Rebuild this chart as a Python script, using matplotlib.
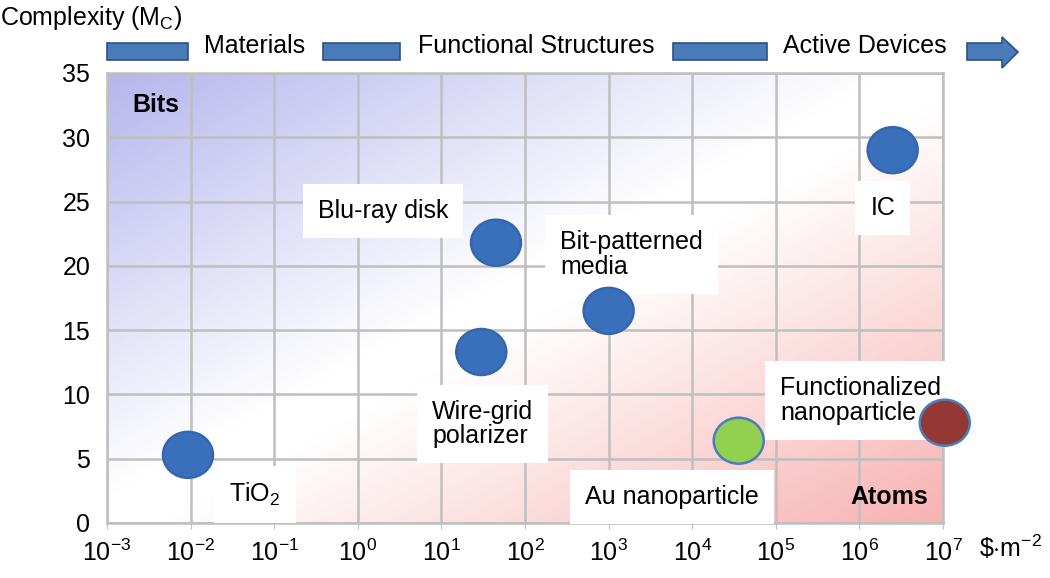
import matplotlib
matplotlib.use('Agg')
import matplotlib.pyplot as plt
import numpy as np
from matplotlib.colors import LinearSegmentedColormap
from matplotlib.path import Path
from matplotlib.patches import Rectangle, Polygon
from matplotlib.ticker import LogLocator, LogFormatterMathtext, NullLocator

plt.rcParams['font.family'] = ['Liberation Sans', 'DejaVu Sans']
plt.rcParams['mathtext.fontset'] = 'custom'
plt.rcParams['mathtext.rm'] = 'Liberation Sans'
plt.rcParams['mathtext.it'] = 'Liberation Sans:italic'
plt.rcParams['mathtext.bf'] = 'Liberation Sans:bold'

# data
names = ['TiO2', 'Wire-grid polarizer', 'Blu-ray disk', 'Bit-patterned media',
         'IC', 'Au nanoparticle', 'Functionalized nanoparticle']
cost = [0.0093, 30, 45, 1000, 2.5e6, 3.6e4, 1.05e7]      # $/m^2
complexity = [5.3, 13.3, 21.8, 16.5, 29.0, 6.4, 7.8]     # M_C
colors = ['#3a70bb', '#3a70bb', '#3a70bb', '#3a70bb', '#3a70bb', '#92d050', '#953735']
edges = ['#3466ad', '#3466ad', '#3466ad', '#3466ad', '#3466ad', '#4a7ebb', '#4a7ebb']

# label boxes
label_text = ['TiO$_2$', 'Wire-grid\npolarizer', 'Blu-ray disk', 'Bit-patterned\nmedia',
              'IC', 'Au nanoparticle', 'Functionalized\nnanoparticle']
label_x = [10**-1.23, 10**0.89, 10**0.30, 10**2.42, 10**6.28, 10**3.76, 10**5.05]
label_y = [2.2, 7.7, 24.3, 20.9, 24.5, 2.0, 9.5]
label_ha = ['center', 'left', 'center', 'left', 'center', 'center', 'left']

stages = ['Materials', 'Functional Structures', 'Active Devices']

W, H = 1050, 578
fig = plt.figure(figsize=(W / 100, H / 100), dpi=100)
ax = fig.add_axes([107 / W, 1 - 523 / H, (943 - 107) / W, (523 - 73) / H])

# background gradient blue (top-left) -> white -> red (bottom-right)
cmap = LinearSegmentedColormap.from_list(
    'bw', [(0, '#b6b6ee'), (0.47, '#ffffff'), (0.53, '#ffffff'), (1, '#f8b2b2')])
u, v = np.meshgrid(np.linspace(0, 1, 300), np.linspace(1, 0, 300))
grad = (u + (1 - v)) / 2
ax.imshow(grad, cmap=cmap, extent=(0, 1, 0, 1), transform=ax.transAxes,
          aspect='auto', zorder=0, interpolation='bilinear')

ax.set_xscale('log')
ax.set_xlim(1e-3, 1e7)
ax.set_ylim(0, 35)
ax.xaxis.set_major_locator(LogLocator(base=10, numticks=20))
ax.xaxis.set_major_formatter(LogFormatterMathtext())
ax.xaxis.set_minor_locator(NullLocator())
ax.set_yticks(np.arange(0, 36, 5))
ax.grid(True, color='#bfbfbf', linewidth=1.8)
ax.set_axisbelow(True)
for s in ax.spines.values():
    s.set_color('#bfbfbf')
    s.set_linewidth(1.8)
ax.tick_params(axis='x', labelsize=18, length=4, color='#bfbfbf', pad=8)
ax.tick_params(axis='y', labelsize=18, length=0, pad=12)

# ellipse marker
circ = Path.unit_circle()
ell = Path(circ.vertices * np.array([1.0, 0.92]), circ.codes)
ax.scatter(cost, complexity, s=36**2, marker=ell, c=colors, edgecolors=edges,
           linewidths=1.8, zorder=4, clip_on=False)

for t, x, y, ha in zip(label_text, label_x, label_y, label_ha):
    ax.text(x, y, t, fontsize=18, ha=ha, va='center', zorder=3, linespacing=1.05,
            bbox=dict(boxstyle='square,pad=0.6', fc='white', ec='none'))

ax.text(0.03, 0.929, 'Bits', transform=ax.transAxes, fontsize=18, fontweight='bold',
        ha='left', va='center', zorder=3)
ax.text(0.982, 0.058, 'Atoms', transform=ax.transAxes, fontsize=18, fontweight='bold',
        ha='right', va='center', zorder=3)

# axis titles
fig.text(0.0, 1 - 18 / H, 'Complexity (M$_\\mathrm{C}$)', fontsize=18, ha='left', va='center')
fig.text(1010 / W, 1 - 548 / H, r'\$$\cdot$m$^{-2}$', fontsize=18, ha='center', va='center')

# stage arrows along the top
bar_col, bar_edge = '#4a7ab8', '#2d5183'
for x0, x1 in [(107, 188), (323, 400), (673, 767)]:
    fig.patches.append(Rectangle((x0 / W, 1 - 60 / H), (x1 - x0) / W, 17 / H,
                                 transform=fig.transFigure, fc=bar_col, ec=bar_edge, lw=1.2))
arrow = [(967, 43), (1002, 43), (1002, 37), (1018, 52), (1002, 68), (1002, 60), (967, 60)]
fig.patches.append(Polygon([(px / W, 1 - py / H) for px, py in arrow], closed=True,
                           transform=fig.transFigure, fc=bar_col, ec=bar_edge, lw=1.2))
for t, cx in zip(stages, [255, 536, 865]):
    fig.text(cx / W, 1 - 46 / H, t, fontsize=18, ha='center', va='center')

plt.savefig('out.png', dpi=100)
plt.close()
